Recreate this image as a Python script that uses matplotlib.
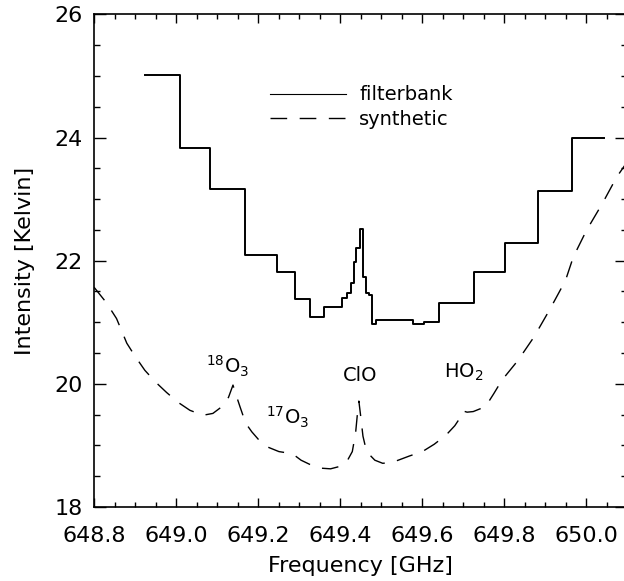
import numpy as np
import matplotlib

matplotlib.use('Agg')

import matplotlib.pyplot as plt
from matplotlib.ticker import MultipleLocator

# filterbank channels: left edge of each channel and its brightness
fb_freq = [648.924, 649.010, 649.084, 649.168, 649.246, 649.290, 649.327,
           649.362, 649.406, 649.416, 649.426, 649.433, 649.440, 649.448,
           649.455, 649.463, 649.471, 649.478, 649.487, 649.577, 649.605,
           649.642, 649.728, 649.803, 649.884, 649.967, 650.044]
fb_temp = [25.02, 23.83, 23.17, 22.09, 21.81, 21.37, 21.08,
           21.25, 21.40, 21.47, 21.64, 21.98, 22.20, 22.52,
           21.74, 21.48, 21.44, 20.98, 21.03, 20.98, 21.00,
           21.32, 21.81, 22.28, 23.13, 23.99, 23.99]

# synthetic spectrum
syn_freq = [648.800, 648.830, 648.855, 648.880, 648.900, 648.924, 648.950,
            648.977, 649.005, 649.034, 649.066, 649.090, 649.110, 649.128,
            649.139, 649.145, 649.156, 649.170, 649.185, 649.202, 649.225,
            649.251, 649.270, 649.285, 649.305, 649.330, 649.355, 649.377,
            649.400, 649.416, 649.430, 649.438, 649.443, 649.446, 649.450,
            649.456, 649.462, 649.469, 649.485, 649.504, 649.525, 649.542,
            649.570, 649.601, 649.630, 649.659, 649.680, 649.693, 649.700,
            649.710, 649.725, 649.755, 649.775, 649.795, 649.834, 649.873,
            649.911, 649.933, 649.950, 649.969, 650.001, 650.040, 650.075,
            650.100]
syn_temp = [21.57, 21.32, 21.06, 20.66, 20.45, 20.22, 20.03,
            19.86, 19.70, 19.57, 19.49, 19.52, 19.62, 19.78,
            19.98, 19.85, 19.63, 19.36, 19.22, 19.09, 18.97,
            18.90, 18.88, 18.86, 18.76, 18.68, 18.63, 18.62,
            18.66, 18.73, 18.90, 19.20, 19.55, 19.72, 19.50,
            19.15, 18.98, 18.87, 18.76, 18.71, 18.72, 18.76,
            18.83, 18.90, 19.02, 19.17, 19.32, 19.45, 19.56,
            19.54, 19.55, 19.63, 19.84, 20.06, 20.38, 20.76,
            21.20, 21.47, 21.68, 22.06, 22.49, 22.93, 23.36,
            23.60]

# line labels
line_names = [r'$^{18}$O$_3$', r'$^{17}$O$_3$', 'ClO', r'HO$_2$']
line_pos = [(649.127, 20.29), (649.271, 19.46), (649.449, 20.14), (649.702, 20.19)]

plt.rc('font', family='DejaVu Sans', size=16)

fig = plt.figure(figsize=(6.24, 5.81), dpi=100)
ax = fig.add_axes([94 / 624., 74 / 581., 533 / 624., 492.6 / 581.])

ax.plot(fb_freq, fb_temp, drawstyle='steps-post', color='black', lw=1.4,
        label='filterbank')
ax.plot(syn_freq, syn_temp, color='black', lw=1.0, ls=(0, (12, 9)),
        label='synthetic')

for name, (x, y) in zip(line_names, line_pos):
    ax.text(x, y, name, ha='center', va='center', fontsize=14)

ax.set_xlim(648.8, 650.1)
ax.set_ylim(18, 26)
ax.xaxis.set_major_locator(MultipleLocator(0.2))
ax.xaxis.set_minor_locator(MultipleLocator(0.05))
ax.yaxis.set_major_locator(MultipleLocator(2))
ax.yaxis.set_minor_locator(MultipleLocator(0.5))
ax.xaxis.set_major_formatter(matplotlib.ticker.FormatStrFormatter('%.1f'))

ax.tick_params(axis='x', which='both', direction='in', top=True, pad=14)
ax.tick_params(axis='x', which='major', length=6.5, width=1)
ax.tick_params(axis='x', which='minor', length=3.6, width=1)
ax.tick_params(axis='y', which='both', direction='in', right=True, pad=8)
ax.tick_params(axis='y', which='major', length=8.6, width=1)
ax.tick_params(axis='y', which='minor', length=4.3, width=1)
for s in ax.spines.values():
    s.set_linewidth(1.2)

fig.canvas.draw()
ylabels = ax.get_yticklabels()
ylabels[0].set_va('bottom')
ylabels[-1].set_va('top')

ax.set_xlabel('Frequency [GHz]', labelpad=7)
ax.set_ylabel('Intensity [Kelvin]', labelpad=14)

leg = ax.legend(loc='upper left', bbox_to_anchor=(0.330, 0.856), frameon=False,
                fontsize=14, handlelength=3.9, handletextpad=0.7, borderpad=0,
                borderaxespad=0, labelspacing=0.3)
leg.get_lines()[0].set_linewidth(0.8)

fig.savefig('out.png', dpi=100)
